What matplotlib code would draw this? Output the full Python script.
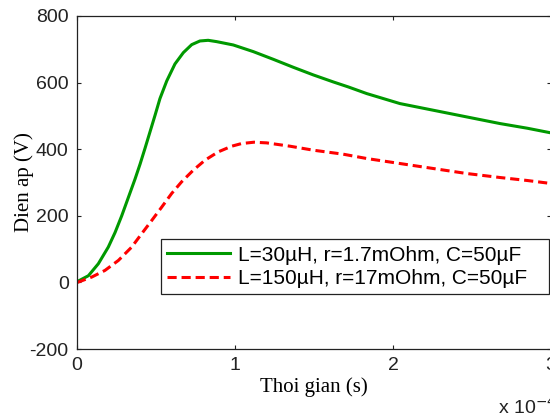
import matplotlib
matplotlib.use("Agg")
import matplotlib.pyplot as plt

plt.rcParams["axes.unicode_minus"] = False

# time in units of 1e-4 s
t_green = [0, 0.008, 0.072, 0.135, 0.198, 0.241, 0.283, 0.325, 0.367, 0.399, 0.430,
           0.462, 0.494, 0.525, 0.568, 0.620, 0.673, 0.726, 0.778, 0.830, 0.884,
           0.989, 1.116, 1.242, 1.369, 1.496, 1.622, 1.717, 1.834, 2.044, 2.255,
           2.466, 2.677, 2.85, 3.0]
v_green = [0, 4, 20, 56, 106, 150, 200, 255, 310, 355, 402,
           452, 502, 552, 605, 656, 690, 714, 725, 727, 723,
           713, 693, 670, 646, 623, 602, 587, 567, 537, 517,
           497, 477, 463, 449]

t_red = [0, 0.008, 0.093, 0.177, 0.262, 0.346, 0.409, 0.473, 0.536, 0.599, 0.662,
         0.736, 0.810, 0.894, 0.979, 1.042, 1.120, 1.2, 1.348, 1.496, 1.685,
         1.834, 2.044, 2.255, 2.466, 2.677, 2.85, 3.0]
v_red = [0, 1, 16, 36, 66, 106, 146, 186, 226, 267, 302,
         337, 367, 392, 409, 417, 421, 419, 409, 397, 385,
         372, 357, 342, 327, 315, 306, 297]

label_green = "L=30µH, r=1.7mOhm, C=50µF"
label_red = "L=150µH, r=17mOhm, C=50µF"

xticks = [0, 1, 2, 3]
yticks = [-200, 0, 200, 400, 600, 800]

fig = plt.figure(figsize=(5.5, 4.15), dpi=100)
ax = fig.add_axes([77/550, (415-349)/415, 474/550, 333/415])

ax.plot(t_green, v_green, color="#009900", lw=2.2, label=label_green)
ax.plot(t_red, v_red, color="#ff0000", lw=2.2, dashes=(3, 1.6), label=label_red)

ax.set_xlim(0, 3)
ax.set_ylim(-200, 800)
ax.set_xticks(xticks)
ax.set_yticks(yticks)
ax.tick_params(direction="in", length=3, width=0.8, top=True, right=True,
               labelsize=14, pad=6, colors="#222222")
for lab in ax.get_xticklabels() + ax.get_yticklabels():
    lab.set_family("Liberation Sans")
    lab.set_color("#222222")
for s in ax.spines.values():
    s.set_linewidth(0.9)
    s.set_color("#222222")

ax.set_xlabel("Thoi gian (s)", family="Liberation Serif", fontsize=15)
ax.xaxis.set_label_coords(0.5, -(387-349)/333, transform=ax.transAxes)
ax.xaxis.label.set_va("center")
ax.set_ylabel("Dien ap (V)", family="Liberation Serif", fontsize=15)
ax.yaxis.set_label_coords(-(77-24)/474, 0.5, transform=ax.transAxes)
ax.yaxis.label.set_va("center")

leg = ax.legend(loc="lower left", bbox_to_anchor=(0.177, 0.165, 0.819, 0.204),
                mode="expand", prop={"family": "Liberation Sans", "size": 15},
                handlelength=3.0, handletextpad=0.4, borderaxespad=0,
                fancybox=False, framealpha=1, edgecolor="#222222",
                borderpad=0.3, labelspacing=0.2)
leg.get_frame().set_linewidth(0.9)

fig.text(498/550, 1-407/415, "x 10$^{-4}$", family="Liberation Sans",
         fontsize=14, va="center", ha="left", color="#222222",
         math_fontfamily="dejavusans")

fig.savefig("out.png", dpi=100)
